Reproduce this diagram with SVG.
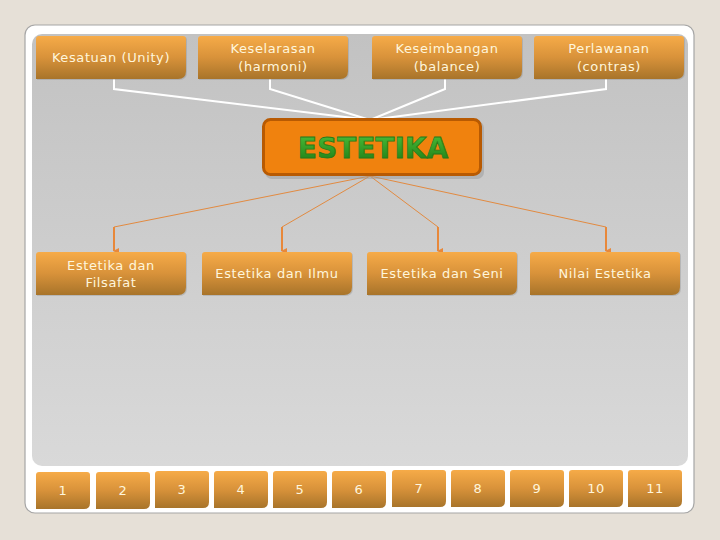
<svg xmlns="http://www.w3.org/2000/svg" width="720" height="540" viewBox="0 0 720 540">
<defs>
<linearGradient id="panel" x1="0" y1="0" x2="0" y2="1">
<stop offset="0" stop-color="#c2c2c2"/>
<stop offset="1" stop-color="#d9d9d9"/>
</linearGradient>
<linearGradient id="box" x1="0" y1="0" x2="0" y2="1">
<stop offset="0" stop-color="#f6ab48"/>
<stop offset="0.5" stop-color="#d8923a"/>
<stop offset="1" stop-color="#a8742a"/>
</linearGradient>
<linearGradient id="green" x1="0" y1="0" x2="0" y2="1">
<stop offset="0" stop-color="#4cc03a"/>
<stop offset="1" stop-color="#1c7a14"/>
</linearGradient>
<path id="bshape" d="M3,0 H147 Q150,0 150,3 V35 Q150,43 142,43 H0 V3 Q0,0 3,0 Z"/>
<path id="tshape" d="M3,0 H51 Q54,0 54,3 V31 Q54,37 48,37 H0 V3 Q0,0 3,0 Z"/>
<marker id="arr" viewBox="0 0 6 6" refX="3" refY="5" markerWidth="6" markerHeight="6" orient="auto-start-reverse" markerUnits="userSpaceOnUse">
<path d="M0,0 L6,0 L3,6 Z" fill="#e8883a"/>
</marker>
</defs>
<style>
.bx{fill:url(#box)}
.sh{fill:#8a8a8a;opacity:0.35}
.t{font-family:"DejaVu Sans",Verdana,sans-serif;font-size:13px;fill:#fff6dc;text-anchor:middle;letter-spacing:0.6px}
.wl{stroke:#ffffff;stroke-width:2;fill:none}
.ol{stroke:#e28a40;stroke-width:1;fill:none}
.ov{stroke:#e8883a;stroke-width:2;fill:none}
</style>
<rect x="0" y="0" width="720" height="540" fill="#e6e0d7"/>
<rect x="25" y="25" width="669" height="488" rx="10" fill="#ffffff" stroke="#a6a6a6" stroke-width="1.2"/>
<rect x="32" y="34" width="656" height="432" rx="10" fill="url(#panel)"/>

<g id="connectors">
<polyline class="wl" points="114,79 114,89 370,120"/>
<polyline class="wl" points="270,79 270,89 370,120"/>
<polyline class="wl" points="445,79 445,89 370,120"/>
<polyline class="wl" points="606,79 606,89 370,120"/>
<polyline class="ol" points="370,176 114,227"/>
<polyline class="ol" points="370,176 282,227"/>
<polyline class="ol" points="370,176 438,227"/>
<polyline class="ol" points="370,176 606,227"/>
<line class="ov" x1="114" y1="227" x2="114" y2="251" marker-end="url(#arr)"/>
<line class="ov" x1="282" y1="227" x2="282" y2="251" marker-end="url(#arr)"/>
<line class="ov" x1="438" y1="227" x2="438" y2="251" marker-end="url(#arr)"/>
<line class="ov" x1="606" y1="227" x2="606" y2="251" marker-end="url(#arr)"/>
</g>

<g id="n-kesatuan"><use href="#bshape" x="37" y="37" class="sh"/><use href="#bshape" x="36" y="36" class="bx"/><text class="t" x="111" y="62">Kesatuan (Unity)</text></g>
<g id="n-keselarasan"><use href="#bshape" x="199" y="37" class="sh"/><use href="#bshape" x="198" y="36" class="bx"/><text class="t" x="273" y="53">Keselarasan</text><text class="t" x="273" y="71">(harmoni)</text></g>
<g id="n-keseimbangan"><use href="#bshape" x="373" y="37" class="sh"/><use href="#bshape" x="372" y="36" class="bx"/><text class="t" x="447" y="53">Keseimbangan</text><text class="t" x="447" y="71">(balance)</text></g>
<g id="n-perlawanan"><use href="#bshape" x="535" y="37" class="sh"/><use href="#bshape" x="534" y="36" class="bx"/><text class="t" x="609" y="53">Perlawanan</text><text class="t" x="609" y="71">(contras)</text></g>

<g id="n-estetika">
<rect x="265" y="121" width="219" height="58" rx="7" fill="#9a9a9a" opacity="0.5"/>
<rect x="263.5" y="119.5" width="217" height="55" rx="7" fill="#f0820e" stroke="#b85a02" stroke-width="3"/>
<text x="373" y="158" text-anchor="middle" font-family="'DejaVu Sans',Verdana,sans-serif" font-weight="bold" font-size="28" fill="url(#green)" stroke="#2a7a1a" stroke-width="0.8">ESTETIKA</text>
</g>

<g id="n-filsafat"><use href="#bshape" x="37" y="253" class="sh"/><use href="#bshape" x="36" y="252" class="bx"/><text class="t" x="111" y="270">Estetika dan</text><text class="t" x="111" y="287">Filsafat</text></g>
<g id="n-ilmu"><use href="#bshape" x="203" y="253" class="sh"/><use href="#bshape" x="202" y="252" class="bx"/><text class="t" x="277" y="278">Estetika dan Ilmu</text></g>
<g id="n-seni"><use href="#bshape" x="368" y="253" class="sh"/><use href="#bshape" x="367" y="252" class="bx"/><text class="t" x="442" y="278">Estetika dan Seni</text></g>
<g id="n-nilai"><use href="#bshape" x="531" y="253" class="sh"/><use href="#bshape" x="530" y="252" class="bx"/><text class="t" x="605" y="278">Nilai Estetika</text></g>

<g id="tab-1"><use href="#tshape" x="36" y="472" class="bx"/><text class="t" x="63" y="495">1</text></g>
<g id="tab-2"><use href="#tshape" x="96" y="472" class="bx"/><text class="t" x="123" y="495">2</text></g>
<g id="tab-3"><use href="#tshape" x="155" y="471" class="bx"/><text class="t" x="182" y="494">3</text></g>
<g id="tab-4"><use href="#tshape" x="214" y="471" class="bx"/><text class="t" x="241" y="494">4</text></g>
<g id="tab-5"><use href="#tshape" x="273" y="471" class="bx"/><text class="t" x="300" y="494">5</text></g>
<g id="tab-6"><use href="#tshape" x="332" y="471" class="bx"/><text class="t" x="359" y="494">6</text></g>
<g id="tab-7"><use href="#tshape" x="392" y="470" class="bx"/><text class="t" x="419" y="493">7</text></g>
<g id="tab-8"><use href="#tshape" x="451" y="470" class="bx"/><text class="t" x="478" y="493">8</text></g>
<g id="tab-9"><use href="#tshape" x="510" y="470" class="bx"/><text class="t" x="537" y="493">9</text></g>
<g id="tab-10"><use href="#tshape" x="569" y="470" class="bx"/><text class="t" x="596" y="493">10</text></g>
<g id="tab-11"><use href="#tshape" x="628" y="470" class="bx"/><text class="t" x="655" y="493">11</text></g>
</svg>
